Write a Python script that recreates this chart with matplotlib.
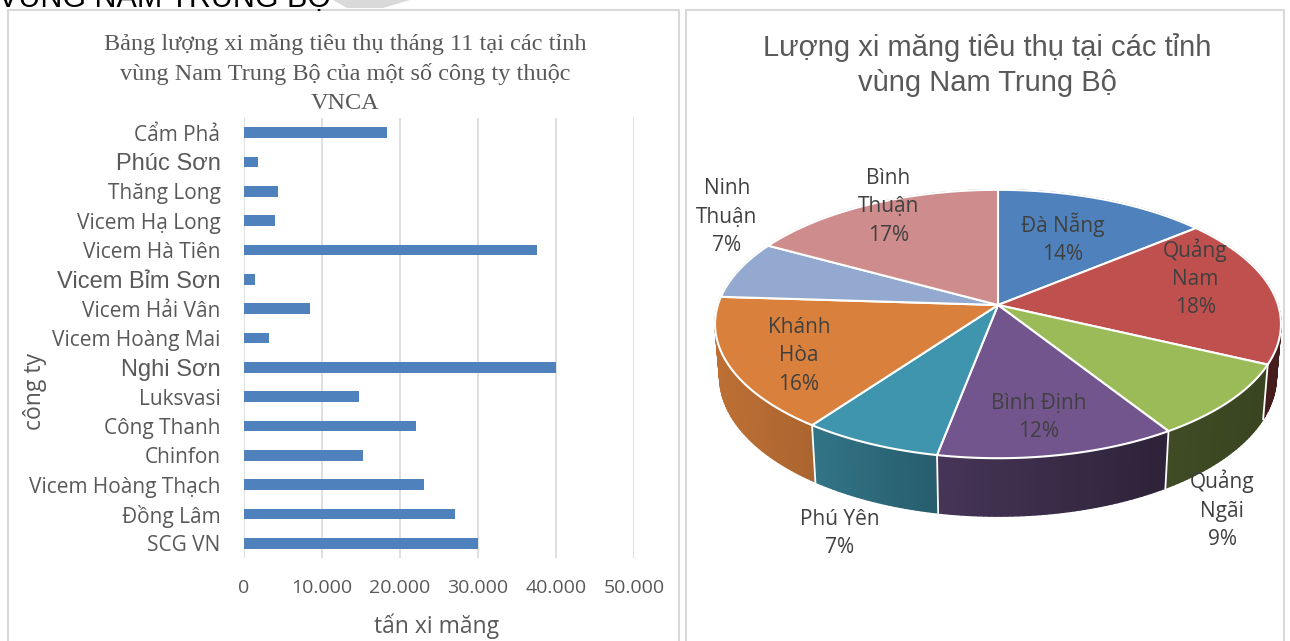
import numpy as np
import matplotlib
matplotlib.use("Agg")
import matplotlib.pyplot as plt
from matplotlib.patches import Polygon, Rectangle
from matplotlib.collections import PolyCollection
from matplotlib.ticker import FuncFormatter
from matplotlib.colors import to_rgb

# ── Data ─────────────────────────────────────────────────────────────────
companies = ["Cẩm Phả", "Phúc Sơn", "Thăng Long", "Vicem Hạ Long", "Vicem Hà Tiên",
             "Vicem Bỉm Sơn", "Vicem Hải Vân", "Vicem Hoàng Mai", "Nghi Sơn", "Luksvasi",
             "Công Thanh", "Chinfon", "Vicem Hoàng Thạch", "Đồng Lâm", "SCG VN"]
tonnes = [18300, 1800, 4350, 4000, 37600, 1350, 8500, 3200, 40000, 14800,
          22100, 15300, 23100, 27000, 30000]
big_labels = ["Phúc Sơn", "Vicem Bỉm Sơn", "Nghi Sơn"]
x_ticks = [0, 10000, 20000, 30000, 40000, 50000]

provinces = ["Đà Nẵng", "Quảng Nam", "Quảng Ngãi", "Bình Định",
             "Phú Yên", "Khánh Hòa", "Ninh Thuận", "Bình Thuận"]
shares = [14, 18, 9, 12, 7, 16, 7, 17]

# ── Style ────────────────────────────────────────────────────────────────
W, H = 1290, 641
GREY_TXT = "#595959"
LABEL_TXT = "#404040"
BORDER = "#D9D9D9"
BAR_COLOR = "#4F81BD"
SLICE_COLORS = ["#4F81BD", "#C0504D", "#9BBB59", "#71558C",
                "#3F95AD", "#D9803C", "#93A9CF", "#CF8C8C"]
wrap = [False, True, True, False, False, True, True, True]
label_r = [0.58, 0.72, 0.97, 0.70, 1.20, 0.75, 1.05, 0.85]
label_dy = [-2, -15, 112, 12, 57, 7, -51, -11]

# pie projection (pixel space of the figure)
PIE_CX, PIE_CY = 998, 305
FOCAL, DIST = 1745.0, 6.23
TILT = np.radians(28)
THICK = 0.215

SANS = ["Open Sans", "DejaVu Sans"]
ARIAL = ["Liberation Sans", "DejaVu Sans"]
SERIF = ["Liberation Serif", "DejaVu Serif"]


def fx(px):
    return px / W


def fy(py):
    return 1 - py / H


def project(X, Z, Y=0.0):
    s, c = np.sin(TILT), np.cos(TILT)
    depth = DIST + Z * c + Y * s
    u = FOCAL * X / depth
    v = FOCAL * (Z * s - Y * c) / depth
    return PIE_CX + u, PIE_CY - v, depth


def shade(color, x):
    f = np.interp(x, [718, 800, 940, 1160, 1280], [0.87, 0.80, 0.62, 0.41, 0.36])
    r, g, b = to_rgb(color)
    return (r * f, g * f, b * f)


fig = plt.figure(figsize=(W / 100, H / 100), dpi=100)
fig.patch.set_facecolor("white")

# panel frames + cut-off heading at the very top
fig.patches.append(Rectangle((fx(8), -0.1), fx(679 - 8), fy(10) + 0.1, transform=fig.transFigure,
                             fill=False, ec=BORDER, lw=1.5))
fig.patches.append(Rectangle((fx(686), -0.1), fx(1284 - 686), fy(10) + 0.1, transform=fig.transFigure,
                             fill=False, ec=BORDER, lw=1.5))
fig.patches.append(Polygon([(fx(333), 1), (fx(410), 1), (fx(383), fy(8)), (fx(347), fy(8))],
                           closed=True, transform=fig.transFigure, fc="#D9D9D9", ec="none"))
fig.text(fx(-2), fy(7), "VÙNG NAM TRUNG BỘ", fontsize=22, family=ARIAL, color="black",
         ha="left", va="baseline")

# ── Bar chart ────────────────────────────────────────────────────────────
ax = fig.add_axes([fx(244), fy(558), fx(634 - 244), (558 - 118) / H])
ypos = np.arange(len(companies))
ax.barh(ypos, tonnes, height=0.36, color=BAR_COLOR, zorder=3)
ax.set_ylim(len(companies) - 0.5, -0.5)
ax.set_xlim(0, 50000)
ax.set_xticks(x_ticks)
ax.xaxis.set_major_formatter(FuncFormatter(lambda v, p: f"{int(v):,}".replace(",", ".")))
ax.set_yticks(ypos)
ax.set_yticklabels(companies)
ax.grid(axis="x", color=BORDER, lw=1.2, zorder=0)
for sp in ax.spines.values():
    sp.set_visible(False)
ax.tick_params(axis="both", length=0, colors=GREY_TXT)
ax.tick_params(axis="y", pad=17)
ax.tick_params(axis="x", pad=15)
for lab in ax.get_xticklabels():
    lab.set_family(SANS)
    lab.set_fontsize(14)
for lab in ax.get_yticklabels():
    if lab.get_text() in big_labels:
        lab.set_family(ARIAL)
        lab.set_fontsize(17)
    else:
        lab.set_family(SANS)
        lab.set_fontsize(15)

fig.text(fx(345), fy(74), "Bảng lượng xi măng tiêu thụ tháng 11 tại các tỉnh\n"
         "vùng Nam Trung Bộ của một số công ty thuộc\nVNCA",
         ha="center", va="center", fontsize=17.5, family=SERIF, color=GREY_TXT, linespacing=1.5)
fig.text(fx(35), fy(391), "công ty", rotation=90, ha="center", va="center",
         fontsize=16.5, family=SANS, color=GREY_TXT)
fig.text(fx(437), fy(626), "tấn xi măng", ha="center", va="center",
         fontsize=16.5, family=SANS, color=GREY_TXT)

# ── 3D pie chart ─────────────────────────────────────────────────────────
ax2 = fig.add_axes([fx(686), 0, fx(1284 - 686), 1])
ax2.set_xlim(686, 1284)
ax2.set_ylim(H, 0)
ax2.axis("off")

fig.text(fx(987), fy(65), "Lượng xi măng tiêu thụ tại các tỉnh\nvùng Nam Trung Bộ",
         ha="center", va="center", fontsize=21, family=ARIAL, color=GREY_TXT, linespacing=1.3)

total = float(sum(shares))
bounds = np.concatenate([[0], np.cumsum(shares) / total]) * 2 * np.pi

# side walls: small quads sorted back to front
quads, qcols, qdepth = [], [], []
for i, col in enumerate(SLICE_COLORS):
    t = np.linspace(bounds[i], bounds[i + 1], max(3, int(np.degrees(bounds[i + 1] - bounds[i]))))
    for a, b in zip(t[:-1], t[1:]):
        xa, ya, da = project(np.sin(a), np.cos(a))
        xb, yb, db = project(np.sin(b), np.cos(b))
        xa2, ya2, _ = project(np.sin(a), np.cos(a), THICK)
        xb2, yb2, _ = project(np.sin(b), np.cos(b), THICK)
        quads.append([(xa, ya), (xb, yb), (xb2, yb2), (xa2, ya2)])
        qcols.append(shade(col, (xa + xb) / 2))
        qdepth.append((da + db) / 2)
order = np.argsort(qdepth)[::-1]
pc = PolyCollection([quads[k] for k in order], facecolors=[qcols[k] for k in order],
                    edgecolors=[qcols[k] for k in order], linewidths=1.0, zorder=2)
ax2.add_collection(pc)
for a in bounds[:-1]:
    if np.cos(a) < 0.2:
        x1, y1, _ = project(np.sin(a), np.cos(a))
        x2, y2, _ = project(np.sin(a), np.cos(a), THICK)
        ax2.plot([x1, x2], [y1, y2], color="white", lw=1.3, zorder=2.5)

# top faces
for i, col in enumerate(SLICE_COLORS):
    t = np.linspace(bounds[i], bounds[i + 1], 120)
    rx, ry, _ = project(np.sin(t), np.cos(t))
    pts = [(PIE_CX, PIE_CY)] + list(zip(rx, ry))
    ax2.add_patch(Polygon(pts, closed=True, fc=col, ec="white", lw=1.5, zorder=3, joinstyle="round"))

# data labels
for i, name in enumerate(provinces):
    mid = (bounds[i] + bounds[i + 1]) / 2
    lx, ly, _ = project(label_r[i] * np.sin(mid), label_r[i] * np.cos(mid))
    pct = round(shares[i] / total * 100)
    txt = (name.replace(" ", "\n") if wrap[i] else name) + f"\n{pct}%"
    ax2.text(lx, ly + label_dy[i], txt, ha="center", va="center", fontsize=15,
             family=SANS, color=LABEL_TXT, linespacing=1.45, zorder=5)

fig.savefig("out.png", dpi=100)
